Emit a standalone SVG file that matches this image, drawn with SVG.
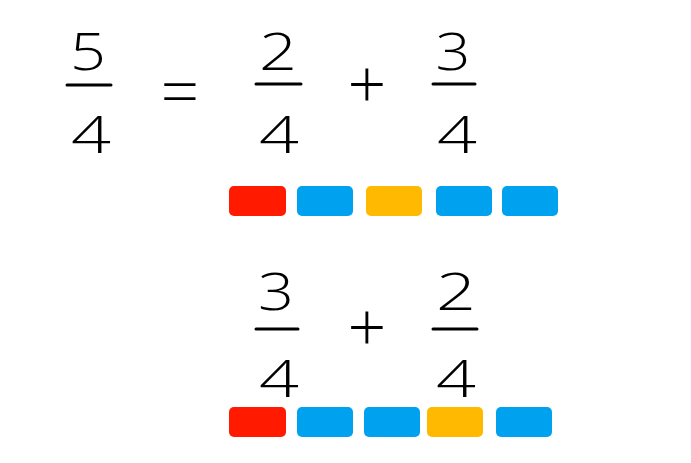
<svg xmlns="http://www.w3.org/2000/svg" width="691" height="463" viewBox="0 0 691 463">
<style>
.d{font-family:"Open Sans","DejaVu Sans",sans-serif;font-weight:300;font-size:52px;fill:#000;text-anchor:middle}
.op{font-family:"Open Sans","DejaVu Sans",sans-serif;font-weight:300;font-size:68px;fill:#000;text-anchor:middle}
.bar{stroke:#000;stroke-width:3;stroke-linecap:round}
.r{fill:#FF1A00}.b{fill:#00A2F0}.y{fill:#FFB900}
</style>
<rect width="691" height="463" fill="#fff"/>
<g id="frac-5-4">
<text class="d" x="88" y="70" textLength="36" lengthAdjust="spacingAndGlyphs">5</text>
<line class="bar" x1="67" y1="85" x2="111" y2="85"/>
<text class="d" x="91" y="153" textLength="40" lengthAdjust="spacingAndGlyphs">4</text>
</g>
<g id="equals"><text class="op" x="180" y="116">=</text></g>
<g id="frac-2-4-top">
<text class="d" x="278" y="70" textLength="38" lengthAdjust="spacingAndGlyphs">2</text>
<line class="bar" x1="256" y1="84" x2="301" y2="84"/>
<text class="d" x="279" y="153" textLength="40" lengthAdjust="spacingAndGlyphs">4</text>
</g>
<g id="plus-top"><text class="op" x="367" y="109">+</text></g>
<g id="frac-3-4-top">
<text class="d" x="453" y="70" textLength="35" lengthAdjust="spacingAndGlyphs">3</text>
<line class="bar" x1="433" y1="84" x2="475" y2="84"/>
<text class="d" x="457" y="153" textLength="40" lengthAdjust="spacingAndGlyphs">4</text>
</g>
<g id="bars-top">
<rect class="r" x="229" y="186" width="57" height="30" rx="5"/>
<rect class="b" x="297" y="186" width="56" height="30" rx="5"/>
<rect class="y" x="366" y="186" width="56" height="30" rx="5"/>
<rect class="b" x="436" y="186" width="56" height="30" rx="5"/>
<rect class="b" x="502" y="186" width="56" height="30" rx="5"/>
</g>
<g id="frac-3-4-bottom">
<text class="d" x="276" y="310" textLength="36" lengthAdjust="spacingAndGlyphs">3</text>
<line class="bar" x1="256" y1="329" x2="298" y2="329"/>
<text class="d" x="279" y="397" textLength="40" lengthAdjust="spacingAndGlyphs">4</text>
</g>
<g id="plus-bottom"><text class="op" x="367" y="352">+</text></g>
<g id="frac-2-4-bottom">
<text class="d" x="456" y="310" textLength="40" lengthAdjust="spacingAndGlyphs">2</text>
<line class="bar" x1="433" y1="329" x2="477" y2="329"/>
<text class="d" x="456" y="397" textLength="40" lengthAdjust="spacingAndGlyphs">4</text>
</g>
<g id="bars-bottom">
<rect class="r" x="229" y="407" width="57" height="30" rx="5"/>
<rect class="b" x="297" y="407" width="56" height="30" rx="5"/>
<rect class="b" x="364" y="407" width="56" height="30" rx="5"/>
<rect class="y" x="427" y="407" width="56" height="30" rx="5"/>
<rect class="b" x="496" y="407" width="56" height="30" rx="5"/>
</g>
</svg>
